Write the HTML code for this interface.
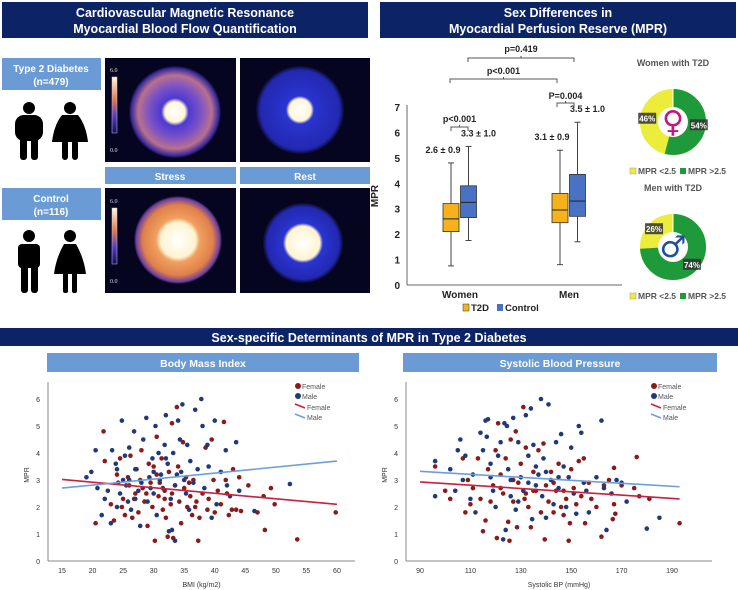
<!DOCTYPE html>
<html><head><meta charset="utf-8">
<style>
html,body{margin:0;padding:0;background:#fff;}
svg{display:block;font-family:"Liberation Sans",sans-serif;}
</style></head>
<body>
<svg id="root" width="738" height="590" viewBox="0 0 738 590">
<defs>
<radialGradient id="stressT2" cx="50%" cy="50%" r="50%">
<stop offset="0" stop-color="#ffffff"/><stop offset="0.22" stop-color="#fff6d8"/><stop offset="0.3" stop-color="#4b3bd0"/><stop offset="0.55" stop-color="#7a50c8"/><stop offset="0.8" stop-color="#b87090"/><stop offset="0.95" stop-color="#3a2a9a"/><stop offset="1" stop-color="#0a0a30"/>
</radialGradient>
<radialGradient id="restT2" cx="50%" cy="50%" r="50%">
<stop offset="0" stop-color="#ffffff"/><stop offset="0.25" stop-color="#fff6d8"/><stop offset="0.32" stop-color="#2a34d0"/><stop offset="0.9" stop-color="#2228b0"/><stop offset="1" stop-color="#0a0a30"/>
</radialGradient>
<radialGradient id="stressC" cx="50%" cy="50%" r="50%">
<stop offset="0" stop-color="#ffffff"/><stop offset="0.4" stop-color="#fff4d0"/><stop offset="0.5" stop-color="#f0a060"/><stop offset="0.8" stop-color="#e0804a"/><stop offset="0.95" stop-color="#7040a0"/><stop offset="1" stop-color="#0a0a30"/>
</radialGradient>
<radialGradient id="restC" cx="50%" cy="50%" r="50%">
<stop offset="0" stop-color="#ffffff"/><stop offset="0.42" stop-color="#fff4d0"/><stop offset="0.5" stop-color="#2a34d0"/><stop offset="0.9" stop-color="#2228b0"/><stop offset="1" stop-color="#0a0a30"/>
</radialGradient>
<linearGradient id="cbar" x1="0" y1="1" x2="0" y2="0">
<stop offset="0" stop-color="#101060"/><stop offset="0.3" stop-color="#5a3ac0"/><stop offset="0.6" stop-color="#e07a50"/><stop offset="1" stop-color="#fffbe0"/>
</linearGradient>
</defs>

<g>
<rect x="2" y="2" width="366" height="36" fill="#0c2366"/>
<text x="185" y="17" text-anchor="middle" font-size="12.5" font-weight="bold" fill="#fff">Cardiovascular Magnetic Resonance</text>
<text x="185" y="33" text-anchor="middle" font-size="12.5" font-weight="bold" fill="#fff">Myocardial Blood Flow Quantification</text>
</g>
<g>
<rect x="380" y="2" width="356" height="36" fill="#0c2366"/>
<text x="558" y="17" text-anchor="middle" font-size="12.5" font-weight="bold" fill="#fff">Sex Differences in</text>
<text x="558" y="33" text-anchor="middle" font-size="12.5" font-weight="bold" fill="#fff">Myocardial Perfusion Reserve (MPR)</text>
</g>
<g>
<rect x="0" y="328" width="738" height="18" fill="#0c2366"/>
<text x="369" y="342" text-anchor="middle" font-size="12.5" font-weight="bold" fill="#fff">Sex-specific Determinants of MPR in Type 2 Diabetes</text>
</g>

<g>
<rect x="2" y="58" width="99" height="32" fill="#6a9bd4"/>
<text x="51" y="72" text-anchor="middle" font-size="10" font-weight="bold" fill="#fff">Type 2 Diabetes</text>
<text x="51" y="85" text-anchor="middle" font-size="10" font-weight="bold" fill="#fff">(n=479)</text>
</g>
<g>
<rect x="2" y="188" width="99" height="32" fill="#6a9bd4"/>
<text x="51" y="202" text-anchor="middle" font-size="10" font-weight="bold" fill="#fff">Control</text>
<text x="51" y="215" text-anchor="middle" font-size="10" font-weight="bold" fill="#fff">(n=116)</text>
</g>
<g fill="#000">
<circle cx="29" cy="108" r="6"/>
<rect x="15" y="115" width="28" height="26" rx="9"/>
<rect x="20" y="135" width="7" height="25" rx="3"/><rect x="31" y="135" width="7" height="25" rx="3"/>
<circle cx="70" cy="108" r="6"/>
<path d="M62 115 H78 Q86 125 88 142 H52 Q54 125 62 115Z"/>
<rect x="62" y="140" width="6" height="20" rx="3"/><rect x="72" y="140" width="6" height="20" rx="3"/>
</g>
<g fill="#000">
<circle cx="29" cy="236" r="6"/>
<rect x="18" y="244" width="22" height="24" rx="4"/>
<rect x="21" y="262" width="7" height="31" rx="3"/><rect x="31" y="262" width="7" height="31" rx="3"/>
<circle cx="70" cy="236" r="6"/>
<path d="M64 244 H76 Q84 258 86 274 H54 Q56 258 64 244Z"/>
<rect x="63" y="272" width="5" height="21" rx="2"/><rect x="72" y="272" width="5" height="21" rx="2"/>
</g>

<g>
<rect x="105" y="58" width="131" height="104" fill="#050520"/>
<circle cx="175" cy="112" r="46" fill="url(#stressT2)"/>
<rect x="112" y="77" width="5" height="56" fill="url(#cbar)" stroke="#ccc" stroke-width="0.5"/>
<text x="110" y="72" font-size="6" fill="#ddd" font-family="Liberation Serif, serif">6.0</text>
<text x="110" y="152" font-size="6" fill="#ddd" font-family="Liberation Serif, serif">0.0</text>
</g>
<g>
<rect x="240" y="58" width="130" height="104" fill="#050520"/>
<circle cx="300" cy="110" r="44" fill="url(#restT2)"/>
</g>
<g>
<rect x="105" y="188" width="131" height="105" fill="#050520"/>
<circle cx="178" cy="240" r="44" fill="url(#stressC)"/>
<rect x="112" y="208" width="5" height="56" fill="url(#cbar)" stroke="#ccc" stroke-width="0.5"/>
<text x="110" y="203" font-size="6" fill="#ddd" font-family="Liberation Serif, serif">6.0</text>
<text x="110" y="283" font-size="6" fill="#ddd" font-family="Liberation Serif, serif">0.0</text>
</g>
<g>
<rect x="240" y="188" width="130" height="105" fill="#050520"/>
<circle cx="303" cy="243" r="40" fill="url(#restC)"/>
</g>
<g>
<rect x="105" y="167" width="131" height="17" fill="#6a9bd4"/>
<text x="170" y="180" text-anchor="middle" font-size="10" font-weight="bold" fill="#fff">Stress</text>
</g>
<g>
<rect x="240" y="167" width="130" height="17" fill="#6a9bd4"/>
<text x="305" y="180" text-anchor="middle" font-size="10" font-weight="bold" fill="#fff">Rest</text>
</g>

<g id="box"></g>
<g id="donuts"></g>

<g>
<rect x="47" y="353" width="312" height="19" fill="#6a9bd4"/>
<text x="203" y="367" text-anchor="middle" font-size="10.5" font-weight="bold" fill="#fff">Body Mass Index</text>
</g>
<g>
<rect x="403" y="353" width="314" height="19" fill="#6a9bd4"/>
<text x="560" y="367" text-anchor="middle" font-size="10.5" font-weight="bold" fill="#fff">Systolic Blood Pressure</text>
</g>
<g id="bmi"></g>
<g id="sbp"></g>
</svg>

<script>
const NS='http://www.w3.org/2000/svg';
function mk(tag,attrs,parent,txt){const e=document.createElementNS(NS,tag);for(const k in attrs)e.setAttribute(k,attrs[k]);if(txt!==undefined)e.textContent=txt;parent.appendChild(e);return e;}

const boxGroups=['Women','Men'];
const boxSeries=['T2D','Control'];
const boxMin=[[0.75,1.75],[0.8,1.7]];
const boxQ1=[[2.1,2.65],[2.45,2.7]];
const boxMed=[[2.6,3.25],[2.95,3.3]];
const boxQ3=[[3.2,3.9],[3.6,4.35]];
const boxMax=[[4.8,5.45],[5.3,6.4]];
const boxLabels=[['2.6 ± 0.9','3.3 ± 1.0'],['3.1 ± 0.9','3.5 ± 1.0']];
const boxYTicks=[0,1,2,3,4,5,6,7];
const boxColors=['#f5b21a','#4a72c4'];

const bx=document.getElementById('box');
const by0=285, byPer=25.43;
const yB=v=>by0-v*byPer;
const groupX=i=>460+i*109;
const seriesOff=j=>j===0?-9:8.5;
mk('line',{x1:407,y1:yB(7)-2,x2:407,y2:by0,stroke:'#666','stroke-width':1},bx);
mk('line',{x1:407,y1:by0,x2:622,y2:by0,stroke:'#666','stroke-width':1},bx);
boxYTicks.forEach(t=>{
  const tx=mk('text',{x:400,y:yB(t)+4,'text-anchor':'end','font-size':10,'font-weight':'bold',fill:'#222'},bx,String(t));
  
  
});
const yt=mk('text',{x:0,y:0,transform:'translate(378,196) rotate(-90)','text-anchor':'middle','font-size':10,'font-weight':'bold',fill:'#222'},bx,'MPR');


boxGroups.forEach((g,i)=>{
  const gl=mk('text',{x:groupX(i),y:298,'text-anchor':'middle','font-size':10,'font-weight':'bold',fill:'#222'},bx,g);
  
  
  boxSeries.forEach((s,j)=>{
    const cx=groupX(i)+seriesOff(j);
    const w=16;
    const grp=mk('g',{},bx);
    
    
    mk('line',{x1:cx,y1:yB(boxMax[i][j]),x2:cx,y2:yB(boxMin[i][j]),stroke:'#444','stroke-width':1},grp);
    mk('line',{x1:cx-3,y1:yB(boxMax[i][j]),x2:cx+3,y2:yB(boxMax[i][j]),stroke:'#444'},grp);
    mk('line',{x1:cx-3,y1:yB(boxMin[i][j]),x2:cx+3,y2:yB(boxMin[i][j]),stroke:'#444'},grp);
    mk('rect',{x:cx-w/2,y:yB(boxQ3[i][j]),width:w,height:yB(boxQ1[i][j])-yB(boxQ3[i][j]),fill:boxColors[j],stroke:'#333','stroke-width':0.8},grp);
    mk('line',{x1:cx-w/2,y1:yB(boxMed[i][j]),x2:cx+w/2,y2:yB(boxMed[i][j]),stroke:'#222','stroke-width':1},grp);
    const lb=mk('text',{x:cx+(j===0?-8:10),y:yB(boxMax[i][j])-10,'text-anchor':'middle','font-size':9,'font-weight':'bold',fill:'#222'},bx,boxLabels[i][j]);
    
    
  });
});
function bracket(x1,x2,y,label,ly){
  const g=mk('g',{},bx);
  
  
  mk('path',{d:`M${x1} ${y+4} V${y} H${x2} V${y+4} M${(x1+x2)/2} ${y} v-2`,fill:'none',stroke:'#555','stroke-width':1},g);
  mk('text',{x:(x1+x2)/2,y:ly,'text-anchor':'middle','font-size':9,'font-weight':'bold',fill:'#222'},g,label);
}
bracket(451,468,127,'p<0.001',122);
bracket(557,574,103,'P=0.004',99);
bracket(450,557,79,'p<0.001',74);
bracket(468,574,58,'p=0.419',52);
const lg=mk('g',{},bx);


mk('rect',{x:463,y:304,width:6,height:7,fill:boxColors[0],stroke:'#333','stroke-width':0.5},lg);
mk('text',{x:471,y:311,'font-size':9.5,'font-weight':'bold',fill:'#222'},lg,'T2D');
mk('rect',{x:497,y:304,width:6,height:7,fill:boxColors[1]},lg);
mk('text',{x:505,y:311,'font-size':9.5,'font-weight':'bold',fill:'#222'},lg,'Control');

const donutTitles=['Women with T2D','Men with T2D'];
const donutAbove=[54,74];
const donutBelow=[46,26];
const dn=document.getElementById('donuts');
const dcx=673, dcy=[122,247], dr=24, dsw=18, C=2*Math.PI*dr;
donutTitles.forEach((t,i)=>{
  const g=mk('g',{},dn);
  
  
  mk('text',{x:dcx,y:dcy[i]-56,'text-anchor':'middle','font-size':9,'font-weight':'bold',fill:'#555'},g,t);
  const tot=donutAbove[i]+donutBelow[i];
  const a=donutAbove[i]/tot*C;
  mk('circle',{cx:dcx,cy:dcy[i],r:dr,fill:'none',stroke:'#ecec3a','stroke-width':dsw},g);
  mk('circle',{cx:dcx,cy:dcy[i],r:dr,fill:'none',stroke:'#1f9a3a','stroke-width':dsw,'stroke-dasharray':`${a} ${C}`,transform:`rotate(-90 ${dcx} ${dcy[i]})`},g);
  mk('line',{x1:dcx,y1:dcy[i]-dr-dsw/2,x2:dcx,y2:dcy[i]-dr+dsw/2,stroke:'#fff','stroke-width':1},g);
  const angA=(-90+donutAbove[i]/tot*180)*Math.PI/180;
  const angB=(-90+(donutAbove[i]+donutBelow[i]/2)/tot*360)*Math.PI/180;
  [[angA,donutAbove[i]],[angB,donutBelow[i]]].forEach(([ang,v])=>{
    const x=dcx+Math.cos(ang)*(dr+2), y=dcy[i]+Math.sin(ang)*(dr+2);
    const lab=mk('g',{},g);
    
    
    mk('rect',{x:x-9,y:y-6,width:18,height:11,fill:'#333',opacity:0.85},lab);
    mk('text',{x:x,y:y+3,'text-anchor':'middle','font-size':8,'font-weight':'bold',fill:'#fff'},lab,v+'%');
  });
  const sym=mk('text',{x:dcx,y:dcy[i]+10,'text-anchor':'middle','font-size':30,'font-weight':'bold',fill:i===0?'#c2187a':'#1f4f9a',
    'font-family':'DejaVu Sans, sans-serif'},g,i===0?'♀':'♂');
  
  
  const ly=dcy[i]+52;
  mk('rect',{x:630,y:ly-6,width:6,height:6,fill:'#ecec3a',stroke:'#999','stroke-width':0.5},g);
  mk('text',{x:638,y:ly,'font-size':8.5,'font-weight':'bold',fill:'#555'},g,'MPR <2.5');
  mk('rect',{x:680,y:ly-6,width:6,height:6,fill:'#1f9a3a'},g);
  mk('text',{x:688,y:ly,'font-size':8.5,'font-weight':'bold',fill:'#555'},g,'MPR >2.5');
});

const bmiFemale=[[21.8,4.8],[20.5,1.4],[22,3.7],[23,2.1],[23.5,1.5],[24,3.2],[24.2,2.9],[24.5,3.8],[25,2.3],[25.3,1.7],[25.8,3.1],[26,2.8],[26.2,3.9],[26.5,1.6],[27,2.5],[27.2,3.4],[27.5,1.8],[28,4.1],[28.2,2.7],[28.5,2.2],[29,1.3],[29.2,3.6],[29.5,2.9],[30,3.5],[30.2,0.75],[30.5,4.6],[30.8,2.4],[31,2.9],[31.3,3.8],[31.5,1.9],[31.8,2.6],[32,1.6],[32.3,0.9],[32.5,3.3],[32.8,2.1],[33,5.1],[33.2,0.85],[33.5,2.8],[33.8,5.7],[34,3.5],[34.2,2.2],[34.5,1.4],[34.8,4.4],[35,2.7],[35.3,3.1],[35.5,2.0],[36,2.4],[36.3,1.7],[36.5,3.0],[37,2.2],[37.3,0.75],[37.5,1.6],[38,2.5],[38.5,4.2],[38.8,1.9],[39,2.3],[39.5,4.5],[39.8,3.0],[40,1.8],[40.5,2.6],[41,2.1],[41.5,5.15],[41.8,3.0],[42,2.5],[42.3,1.7],[42.8,1.9],[43,3.4],[43.5,1.9],[44,3.1],[44.3,1.85],[45.5,2.8],[47,1.8],[48,2.4],[48.2,1.15],[49.2,2.7],[49.8,2.1],[53.5,0.8],[59.8,1.8],[26.8,2.3],[29.8,2.0],[33,2.5],[35.8,2.9],[24.8,2.0],[27.8,3.0],[30.5,3.2],[31.8,2.3],[28.8,2.5],[36.8,2.0]];
const bmiMale=[[19,3.1],[19.8,3.3],[20.5,4.1],[20.8,2.7],[21.5,1.7],[22,2.3],[22.5,2.6],[23,1.4],[23.2,4.1],[23.8,3.6],[24,2.0],[24.5,2.5],[24.8,5.2],[25,3.0],[25.3,3.9],[25.8,2.2],[26,4.2],[26.3,1.9],[26.8,4.8],[27,3.4],[27.5,2.6],[27.8,1.3],[28.3,4.5],[28.8,5.3],[29,2.2],[29.3,3.1],[29.8,3.8],[30,2.5],[30.3,5.0],[30.5,1.7],[30.8,4.0],[31.2,3.2],[31.5,2.7],[31.8,4.3],[32,5.4],[32.3,3.6],[32.5,1.1],[32.8,2.3],[33,1.15],[33.2,4.0],[33.5,0.75],[33.8,3.2],[34,5.2],[34.3,4.5],[34.7,5.8],[35,3.0],[35.3,2.5],[35.5,4.3],[35.8,1.9],[36,3.7],[36.5,2.9],[36.8,5.6],[37.2,3.4],[37.8,6.0],[38,5.0],[38.3,2.7],[38.8,4.3],[39,3.5],[39.5,1.6],[40,5.2],[40.3,2.1],[41,3.3],[41.8,4.1],[42,2.8],[42.5,2.4],[43.5,4.4],[44,2.6],[46.5,1.85],[52.3,2.85],[28,2.9],[31,3.0],[33.5,2.8],[26,3.0],[30,3.3],[24,3.4],[27,2.3],[29.5,2.7],[32,3.8],[34.5,3.3],[25.5,2.8]];
const bmiTrendFemale=[[15,3.02],[60,2.1]];
const bmiTrendMale=[[15,2.7],[60,3.7]];
const bmiXTicks=[15,20,25,30,35,40,45,50,55,60];
const sbpFemale=[[96,3.5],[100,2.6],[102,2.3],[107,3.8],[108,1.8],[109,3.0],[110,2.1],[111,2.7],[113,3.8],[114,2.3],[115,1.1],[116,1.5],[117,3.4],[118,2.2],[119,2.8],[120,4.1],[120.5,0.85],[121,5.1],[122,3.2],[123,2.5],[124,3.8],[125,1.45],[125.5,0.75],[126,4.5],[127,2.2],[128,4.8],[128.5,1.25],[129,2.9],[130,3.6],[131,5.7],[131.5,2.3],[132,4.2],[133,2.0],[134,1.25],[135,3.3],[136,2.6],[137,4.1],[138,1.8],[139,4.35],[139.5,0.8],[140,2.8],[141,2.2],[142,3.3],[143,1.8],[144,2.6],[145,3.6],[146,2.0],[147,1.7],[148,2.3],[149,0.75],[149.5,1.4],[150,3.4],[151,2.7],[152,2.1],[153,3.7],[154,2.4],[155,3.8],[155.5,1.4],[157,2.9],[158,2.3],[160,2.0],[162,0.9],[163,2.8],[165,3.0],[167,2.1],[167.5,1.75],[166.5,1.55],[167,3.45],[170,2.8],[175,2.7],[176,3.85],[177,2.4],[181,2.3],[193,1.4],[135,2.6],[143,2.9],[122,2.7],[127,3.0],[132,2.5],[147,2.6]];
const sbpMale=[[96,3.7],[96,2.4],[102,3.4],[104,2.6],[105,4.1],[106,4.5],[107,3.0],[108,3.9],[110,2.3],[111,3.2],[112,1.8],[114,4.75],[115,4.1],[116,5.2],[116.5,4.6],[117,5.25],[118,3.6],[119,2.6],[120,2.0],[121,3.9],[122,4.4],[123,0.8],[123.5,5.1],[124,1.15],[124.5,5.0],[125,3.4],[126,2.4],[127,5.3],[128,1.9],[129,4.4],[130,3.1],[131,2.6],[132,5.4],[133,3.9],[134,5.65],[134.5,1.55],[135,4.3],[136,2.8],[137,3.2],[138,6.0],[138.5,2.4],[139,3.8],[140,1.6],[141,5.8],[142,3.0],[143,2.1],[144,4.4],[145,2.7],[146,4.7],[147,3.5],[148,2.0],[149,3.1],[150,4.2],[151,2.5],[152,1.75],[153,5.0],[154,4.75],[155,2.9],[156,2.6],[157,1.8],[160,3.1],[162,5.2],[163,2.7],[164,1.15],[166,2.5],[168,3.0],[170,2.9],[172,2.2],[180,1.2],[185,1.6],[126,3.0],[133,2.9],[140,3.3],[118,3.1],[129,2.2],[136,3.5],[145,3.1]];
const sbpTrendFemale=[[90,2.93],[193,2.3]];
const sbpTrendMale=[[90,3.32],[193,2.75]];
const sbpXTicks=[90,110,130,150,170,190];
const scatterYTicks=[0,1,2,3,4,5,6];

function scatter(id,cfg){
  const g=document.getElementById(id);
  const xS=v=>cfg.x0px+(v-cfg.x0)*cfg.pxPer;
  const yS=v=>561-v*27;
  mk('line',{x1:cfg.axisX,y1:382,x2:cfg.axisX,y2:561,stroke:'#888','stroke-width':1},g);
  mk('line',{x1:cfg.axisX,y1:561,x2:cfg.axisEnd,y2:561,stroke:'#888','stroke-width':1},g);
  scatterYTicks.forEach(t=>{
    const e=mk('text',{x:cfg.axisX-8,y:yS(t)+3,'text-anchor':'end','font-size':7,fill:'#333'},g,String(t));
    
    
  });
  cfg.xticks.forEach(t=>{
    const e=mk('text',{x:xS(t),y:573,'text-anchor':'middle','font-size':7,fill:'#333'},g,String(t));
    
    
  });
  const xt=mk('text',{x:(cfg.axisX+cfg.axisEnd)/2,y:587,'text-anchor':'middle','font-size':7,fill:'#333'},g,cfg.xtitle);
  
  
  const ytt=mk('text',{x:0,y:0,transform:`translate(${cfg.axisX-19},475) rotate(-90)`,'text-anchor':'middle','font-size':7,fill:'#333'},g,'MPR');
  
  
  [[cfg.female,'#8b1a1a'],[cfg.male,'#1f3a7a']].forEach(([arr,col],k)=>{
    arr.forEach(p=>{
      const c=mk('circle',{cx:xS(p[0]),cy:yS(p[1]),r:2.3,fill:col},g);
      
      
    });
  });
  [[cfg.tf,'#c8203f'],[cfg.tm,'#6c9edb']].forEach(([tr,col],k)=>{
    const l=mk('line',{x1:xS(tr[0][0]),y1:yS(tr[0][1]),x2:xS(tr[1][0]),y2:yS(tr[1][1]),stroke:col,'stroke-width':1.6},g);
    
    
  });
  const lx=cfg.legX;
  const lg=mk('g',{},g);
  
  
  mk('circle',{cx:lx,cy:386,r:3,fill:'#8b1a1a'},lg);
  mk('text',{x:lx+4,y:389,'font-size':7,fill:'#555'},lg,'Female');
  mk('circle',{cx:lx,cy:396,r:3,fill:'#1f3a7a'},lg);
  mk('text',{x:lx+4,y:399,'font-size':7,fill:'#555'},lg,'Male');
  mk('line',{x1:lx-3,y1:404,x2:lx+7,y2:408,stroke:'#c8203f','stroke-width':1.5},lg);
  mk('text',{x:lx+9,y:410,'font-size':7,fill:'#555'},lg,'Female');
  mk('line',{x1:lx-3,y1:414,x2:lx+7,y2:418,stroke:'#6c9edb','stroke-width':1.5},lg);
  mk('text',{x:lx+9,y:420,'font-size':7,fill:'#555'},lg,'Male');
}
scatter('bmi',{x0:15,x0px:62,pxPer:6.11,axisX:48,axisEnd:355,xticks:bmiXTicks,xtitle:'BMI (kg/m2)',female:bmiFemale,male:bmiMale,tf:bmiTrendFemale,tm:bmiTrendMale,legX:298});
scatter('sbp',{x0:90,x0px:420,pxPer:2.52,axisX:406,axisEnd:712,xticks:sbpXTicks,xtitle:'Systolic BP (mmHg)',female:sbpFemale,male:sbpMale,tf:sbpTrendFemale,tm:sbpTrendMale,legX:654});
</script>
</body></html>
